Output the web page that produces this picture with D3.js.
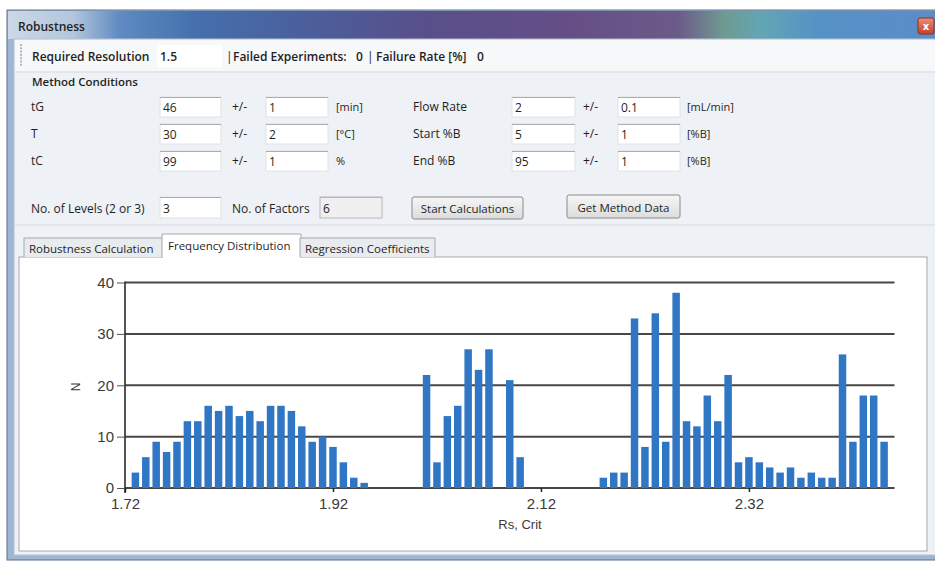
<!DOCTYPE html>
<html>
<head>
<meta charset="utf-8">
<script src="https://cdn.jsdelivr.net/npm/d3@7"></script>
<style>
  html, body { margin: 0; padding: 0; background: #ffffff; }
  svg { display: block; }
  .ui { font-family: "Open Sans", "Noto Sans", sans-serif; fill: #1f1f1f; }
  .chart text { font-family: "Liberation Sans", Arial, sans-serif; }
</style>
</head>
<body>
<div id="my_dataviz"></div>
<script>
// histogram of Rs, Crit values (bin centres and counts)
var rsBins = [1.73, 1.74, 1.75, 1.76, 1.77, 1.78, 1.79, 1.80, 1.81, 1.82, 1.83, 1.84, 1.85, 1.86, 1.87, 1.88, 1.89, 1.90, 1.91, 1.92, 1.93, 1.94, 1.95,
              1.96, 1.97, 1.98, 1.99, 2.00,
              2.01, 2.02, 2.03, 2.04, 2.05, 2.06, 2.07, 2.08, 2.09, 2.10,
              2.11, 2.12, 2.13, 2.14, 2.15, 2.16, 2.17,
              2.18, 2.19, 2.20, 2.21, 2.22, 2.23, 2.24, 2.25, 2.26, 2.27, 2.28, 2.29, 2.30, 2.31, 2.32,
              2.33, 2.34, 2.35, 2.36, 2.37, 2.38, 2.39, 2.40, 2.41, 2.42, 2.43, 2.44, 2.45];
var counts = [3, 6, 9, 7, 9, 13, 13, 16, 15, 16, 14, 15, 13, 16, 16, 15, 12, 9, 10, 8, 5, 2, 1,
              0, 0, 0, 0, 0,
              22, 5, 14, 16, 27, 23, 27, 0, 21, 6,
              0, 0, 0, 0, 0, 0, 0,
              2, 3, 3, 33, 8, 34, 9, 38, 13, 12, 18, 13, 22, 5, 6,
              5, 4, 3, 4, 2, 3, 2, 2, 26, 9, 18, 18, 9];
var xTicks = [1.72, 1.92, 2.12, 2.32];
var yTicks = [0, 10, 20, 30, 40];

// dialog contents
var methodRows = [
  { name: "tG", value: "46", tol: "1", unit: "[min]" },
  { name: "T", value: "30", tol: "2", unit: "[\u00b0C]" },
  { name: "tC", value: "99", tol: "1", unit: "%" }
];
var methodRows2 = [
  { name: "Flow Rate", value: "2", tol: "0.1", unit: "[mL/min]" },
  { name: "Start %B", value: "5", tol: "1", unit: "[%B]" },
  { name: "End %B", value: "95", tol: "1", unit: "[%B]" }
];
var tabNames = ["Robustness Calculation", "Frequency Distribution", "Regression Coefficients"];

var W = 935, H = 561;
var svg = d3.select("#my_dataviz").append("svg")
  .attr("width", W).attr("height", H);

var defs = svg.append("defs");
var tg = defs.append("linearGradient").attr("id", "titleGrad");
[[0, "#ccd8e6"], [0.07, "#b3c6dc"], [0.12, "#5f8bc2"], [0.2, "#4470ad"], [0.32, "#4b5f9c"],
 [0.45, "#584f8a"], [0.6, "#654e85"], [0.72, "#6c5a89"], [0.77, "#6f9a92"], [0.81, "#62a6b4"],
 [0.87, "#5592c6"], [1, "#5b8cc8"]].forEach(function(s) {
  tg.append("stop").attr("offset", s[0]).attr("stop-color", s[1]);
});
var bg = defs.append("linearGradient").attr("id", "btnGrad").attr("x2", 0).attr("y2", 1);
bg.append("stop").attr("offset", 0).attr("stop-color", "#f6f6f6");
bg.append("stop").attr("offset", 1).attr("stop-color", "#dcdcdc");
var cg = defs.append("linearGradient").attr("id", "closeGrad").attr("x2", 0).attr("y2", 1);
cg.append("stop").attr("offset", 0).attr("stop-color", "#e8907a");
cg.append("stop").attr("offset", 1).attr("stop-color", "#c8402a");

// window frame
svg.append("rect").attr("x", 7).attr("y", 10).attr("width", 930).attr("height", 550)
  .attr("fill", "#9fb6d2").attr("stroke", "#5a6f8c");
svg.append("rect").attr("x", 8).attr("y", 11).attr("width", 930).attr("height", 28)
  .attr("fill", "url(#titleGrad)");
svg.append("text").attr("class", "ui").attr("x", 18).attr("y", 31)
  .style("font-size", "12px").style("font-weight", 600).attr("fill", "#1b2230").text("Robustness");
svg.append("rect").attr("x", 918).attr("y", 18).attr("width", 16).attr("height", 16).attr("rx", 2)
  .attr("fill", "url(#closeGrad)").attr("stroke", "#8a3020");
svg.append("text").attr("x", 926).attr("y", 30).attr("text-anchor", "middle")
  .style("font-family", "DejaVu Sans").style("font-size", "10px").style("font-weight", "bold")
  .attr("fill", "#fff").text("x");

// client area
svg.append("rect").attr("x", 14).attr("y", 39).attr("width", 925).attr("height", 516)
  .attr("fill", "#eef1f5").attr("stroke", "#b8c2cf");
svg.append("rect").attr("x", 15).attr("y", 40).attr("width", 925).attr("height", 31)
  .attr("fill", "#f6f8fa");
svg.append("line").attr("x1", 15).attr("x2", 935).attr("y1", 72).attr("y2", 72).attr("stroke", "#d6dbe1");
svg.append("line").attr("x1", 15).attr("x2", 935).attr("y1", 225).attr("y2", 225).attr("stroke", "#d6dbe1");

// toolbar grip
for (var i = 0; i < 7; i++) {
  svg.append("rect").attr("x", 20).attr("y", 44 + i * 3.3).attr("width", 2).attr("height", 2).attr("fill", "#b0b8c2");
}

function label(x, y, t, opts) {
  opts = opts || {};
  return svg.append("text").attr("class", "ui").attr("x", x).attr("y", y)
    .style("font-size", (opts.size || 12) + "px")
    .style("font-weight", opts.weight || 400)
    .attr("fill", opts.fill || "#1f1f1f")
    .text(t);
}
function textbox(x, y, w, h, t, disabled) {
  svg.append("rect").attr("x", x).attr("y", y).attr("width", w).attr("height", h)
    .attr("fill", disabled ? "#f0f0f0" : "#ffffff")
    .attr("stroke", disabled ? "#b8b8b8" : "#dfe2e6");
  svg.append("line").attr("x1", x).attr("x2", x + w).attr("y1", y + 0.5).attr("y2", y + 0.5)
    .attr("stroke", disabled ? "#b8b8b8" : "#a9adb3");
  label(x + 3, y + h - 5, t, { fill: disabled ? "#8a8a8a" : "#1f1f1f" });
}
function button(x, y, w, h, t) {
  svg.append("rect").attr("x", x).attr("y", y).attr("width", w).attr("height", h).attr("rx", 2)
    .attr("fill", "url(#btnGrad)").attr("stroke", "#8a8a8a");
  svg.append("text").attr("class", "ui").attr("x", x + w / 2).attr("y", y + h - 6)
    .attr("text-anchor", "middle").style("font-size", "11.5px").text(t);
}

// toolbar row
svg.append("rect").attr("x", 157).attr("y", 45).attr("width", 65).attr("height", 22).attr("fill", "#ffffff");
label(32, 61, "Required Resolution", { weight: 600 });
label(160, 61, "1.5", { weight: 600 });
label(226, 61, "|", { fill: "#aaa" });
label(233, 61, "Failed Experiments:", { weight: 600 });
label(356, 61, "0", { weight: 600 });
label(367, 61, "|", { fill: "#aaa" });
label(376, 61, "Failure Rate [%]", { weight: 600 });
label(477, 61, "0", { weight: 600 });

label(32, 86, "Method Conditions", { size: 11.5, weight: 600 });

// method condition rows
methodRows.forEach(function(r, i) {
  var yy = 97 + i * 27;
  label(31, yy + 14, r.name);
  textbox(160, yy, 61, 20, r.value);
  label(232, yy + 14, "+/-");
  textbox(266, yy, 62, 20, r.tol);
  label(336, yy + 14, r.unit, { size: 11 });
});
methodRows2.forEach(function(r, i) {
  var yy = 97 + i * 27;
  label(413, yy + 14, r.name);
  textbox(512, yy, 63, 20, r.value);
  label(583, yy + 14, "+/-");
  textbox(618, yy, 62, 20, r.tol);
  label(687, yy + 14, r.unit, { size: 11 });
});

label(31, 213, "No. of Levels (2 or 3)");
textbox(160, 197, 61, 21, "3");
label(232, 213, "No. of Factors");
textbox(320, 197, 62, 21, "6", true);
button(412, 197, 111, 22, "Start Calculations");
button(567, 195, 113, 23, "Get Method Data");

// tab page
svg.append("rect").attr("x", 19).attr("y", 257).attr("width", 908).attr("height", 294)
  .attr("fill", "#ffffff").attr("stroke", "#a3a8ae");
var tabX = [24, 163, 300, 435];
tabNames.forEach(function(t, i) {
  var sel = i === 1;
  var x0 = tabX[i] - (sel ? 1 : 0), x1 = tabX[i + 1] + (sel ? 1 : 0);
  var y0 = sel ? 234 : 238;
  svg.append("path")
    .attr("d", "M" + x0 + "," + (sel ? 258 : 257) + "V" + y0 + "H" + x1 + "V" + (sel ? 258 : 257))
    .attr("fill", sel ? "#ffffff" : "#e9ecef").attr("stroke", "#a3a8ae");
  label(tabX[i] + 5, sel ? 250 : 253, t, { size: 11.5 });
});

// chart
var chart = svg.append("g").attr("class", "chart");
var x = d3.scaleLinear().domain([1.72, 2.46]).range([125, 894.5]);
var y = d3.scaleLinear().domain([0, 40]).range([488, 282.5]);
var barW = (x(1.73) - x(1.72)) * 0.72;

chart.append("g").selectAll("line").data(yTicks).enter().append("line")
  .attr("x1", x(1.72)).attr("x2", x(2.46))
  .attr("y1", function(d) { return y(d); }).attr("y2", function(d) { return y(d); })
  .attr("stroke", "#4b4643").attr("stroke-width", 2);

chart.append("g").selectAll("rect")
  .data(rsBins.map(function(b, i) { return { rs: b, n: counts[i] }; }).filter(function(d) { return d.n > 0; }))
  .enter().append("rect")
  .attr("x", function(d) { return x(d.rs) - barW / 2; })
  .attr("width", barW)
  .attr("y", function(d) { return y(d.n); })
  .attr("height", function(d) { return y(0) - y(d.n); })
  .attr("fill", "#2f76c5");

var yAxis = chart.append("g").attr("transform", "translate(" + x(1.72) + ",0)")
  .call(d3.axisLeft(y).tickValues(yTicks).tickSize(8).tickPadding(3));
yAxis.select(".domain").attr("d", "M0," + (y(40) - 1) + "V" + (y(0) + 5)).attr("stroke", "#2a2a2a").attr("stroke-width", 1.6);
yAxis.selectAll(".tick line").attr("stroke", "#555");
yAxis.selectAll("text").style("font-size", "15px").attr("fill", "#3a3a3a");

var xAxis = chart.append("g").attr("transform", "translate(0," + y(0) + ")")
  .call(d3.axisBottom(x).tickValues(xTicks).tickSize(4).tickPadding(6).tickFormat(d3.format(".2f")));
xAxis.select(".domain").remove();
xAxis.selectAll(".tick line").attr("stroke", "#222").attr("stroke-width", 1.5);
xAxis.selectAll("text").style("font-size", "15px").attr("fill", "#3a3a3a");

chart.append("text").attr("transform", "translate(80,387) rotate(-90)")
  .attr("text-anchor", "middle").style("font-size", "12px").attr("fill", "#3a3a3a").text("N");
chart.append("text").attr("x", 520).attr("y", 529).attr("text-anchor", "middle")
  .style("font-size", "13px").attr("fill", "#3a3a3a").text("Rs, Crit");
</script>
</body>
</html>
